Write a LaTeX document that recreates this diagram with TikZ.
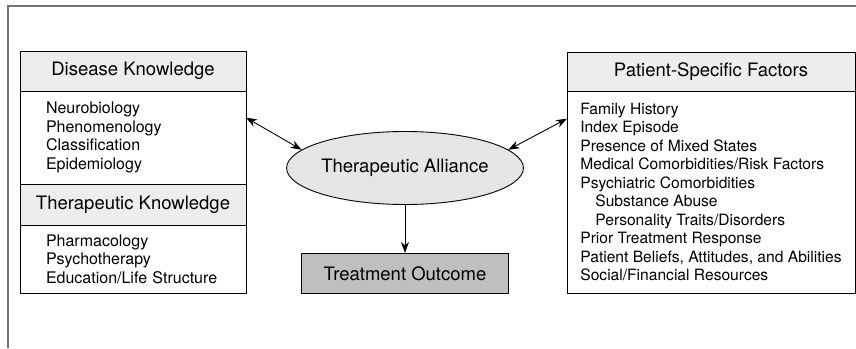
\documentclass[tikz,border=0pt]{standalone}
\usepackage{fontspec}
\setmainfont{TeX Gyre Heros}
\usetikzlibrary{shapes.geometric}
\usetikzlibrary{arrows.meta}
\usetikzlibrary{positioning}

\definecolor{headgray}{gray}{0.93}
\definecolor{ovalgray}{gray}{0.90}
\definecolor{outgray}{gray}{0.75}
\definecolor{framegray}{gray}{0.45}

\begin{document}
\begin{tikzpicture}[x=1pt, y=-1pt, line width=0.9pt,
  head/.style={draw, fill=headgray, outer sep=0pt, inner sep=0pt, font=\fontsize{18.5}{22}\selectfont},
  body/.style={draw, fill=white, outer sep=0pt, inner ysep=0pt, align=left, font=\fontsize{16}{18.5}\selectfont},
  link/.style={{Stealth[length=11pt, width=8pt]}-{Stealth[length=11pt, width=8pt]}}]

  \useasboundingbox (0,0) rectangle (856,348);

  % Outer frame, open on the right and bottom
  \draw[framegray, line width=2.5pt] (8,348) -- (8,6) -- (856,6);

  % Left column: knowledge boxes
  \node[head, minimum width=226pt, minimum height=40pt] (dkhead) at (133,71) {Disease Knowledge};
  \node[body, below=0pt of dkhead, text width=174pt, inner xsep=26pt, minimum height=93pt] (dkbody)
    {Neurobiology\\Phenomenology\\Classification\\Epidemiology};
  \node[head, below=0pt of dkbody, minimum width=226pt, minimum height=41pt] (tkhead) {Therapeutic Knowledge};
  \node[body, below=0pt of tkhead, text width=174pt, inner xsep=26pt, minimum height=68pt] (tkbody)
    {Pharmacology\\Psychotherapy\\Education/Life Structure};

  % Right column: patient factors
  \node[head, minimum width=288pt, minimum height=39pt] (pshead) at (711,71.5) {Patient-Specific Factors};
  \node[body, below=0pt of pshead, inner xsep=0pt, minimum width=288pt, minimum height=202pt,
    font=\fontsize{15.6}{18.5}\selectfont] (psbody)
    {Family History\\Index Episode\\Presence of Mixed States\\Medical Comorbidities/Risk Factors\\
     Psychiatric Comorbidities\\\hspace*{15pt}Substance Abuse\\\hspace*{15pt}Personality Traits/Disorders\\
     Prior Treatment Response\\Patient Beliefs, Attitudes, and Abilities\\Social/Financial Resources};

  % Centre: alliance and outcome
  \node[ellipse, draw, fill=ovalgray, inner sep=0pt, minimum width=208pt, minimum height=73pt,
    font=\fontsize{18.5}{22}\selectfont] (alliance) at (405,168) {Therapeutic Alliance};
  \node[draw, fill=outgray, below=48pt of alliance, minimum width=207pt, minimum height=40pt,
    font=\fontsize{18.5}{22}\selectfont] (outcome) {Treatment Outcome};

  % Arrows
  \draw[link] (dkbody.10) -- (alliance.170);
  \draw[link] (alliance.10) -- (psbody.153);
  \draw[-{Stealth[length=11pt, width=8pt]}] (alliance) -- (outcome);
\end{tikzpicture}
\end{document}
